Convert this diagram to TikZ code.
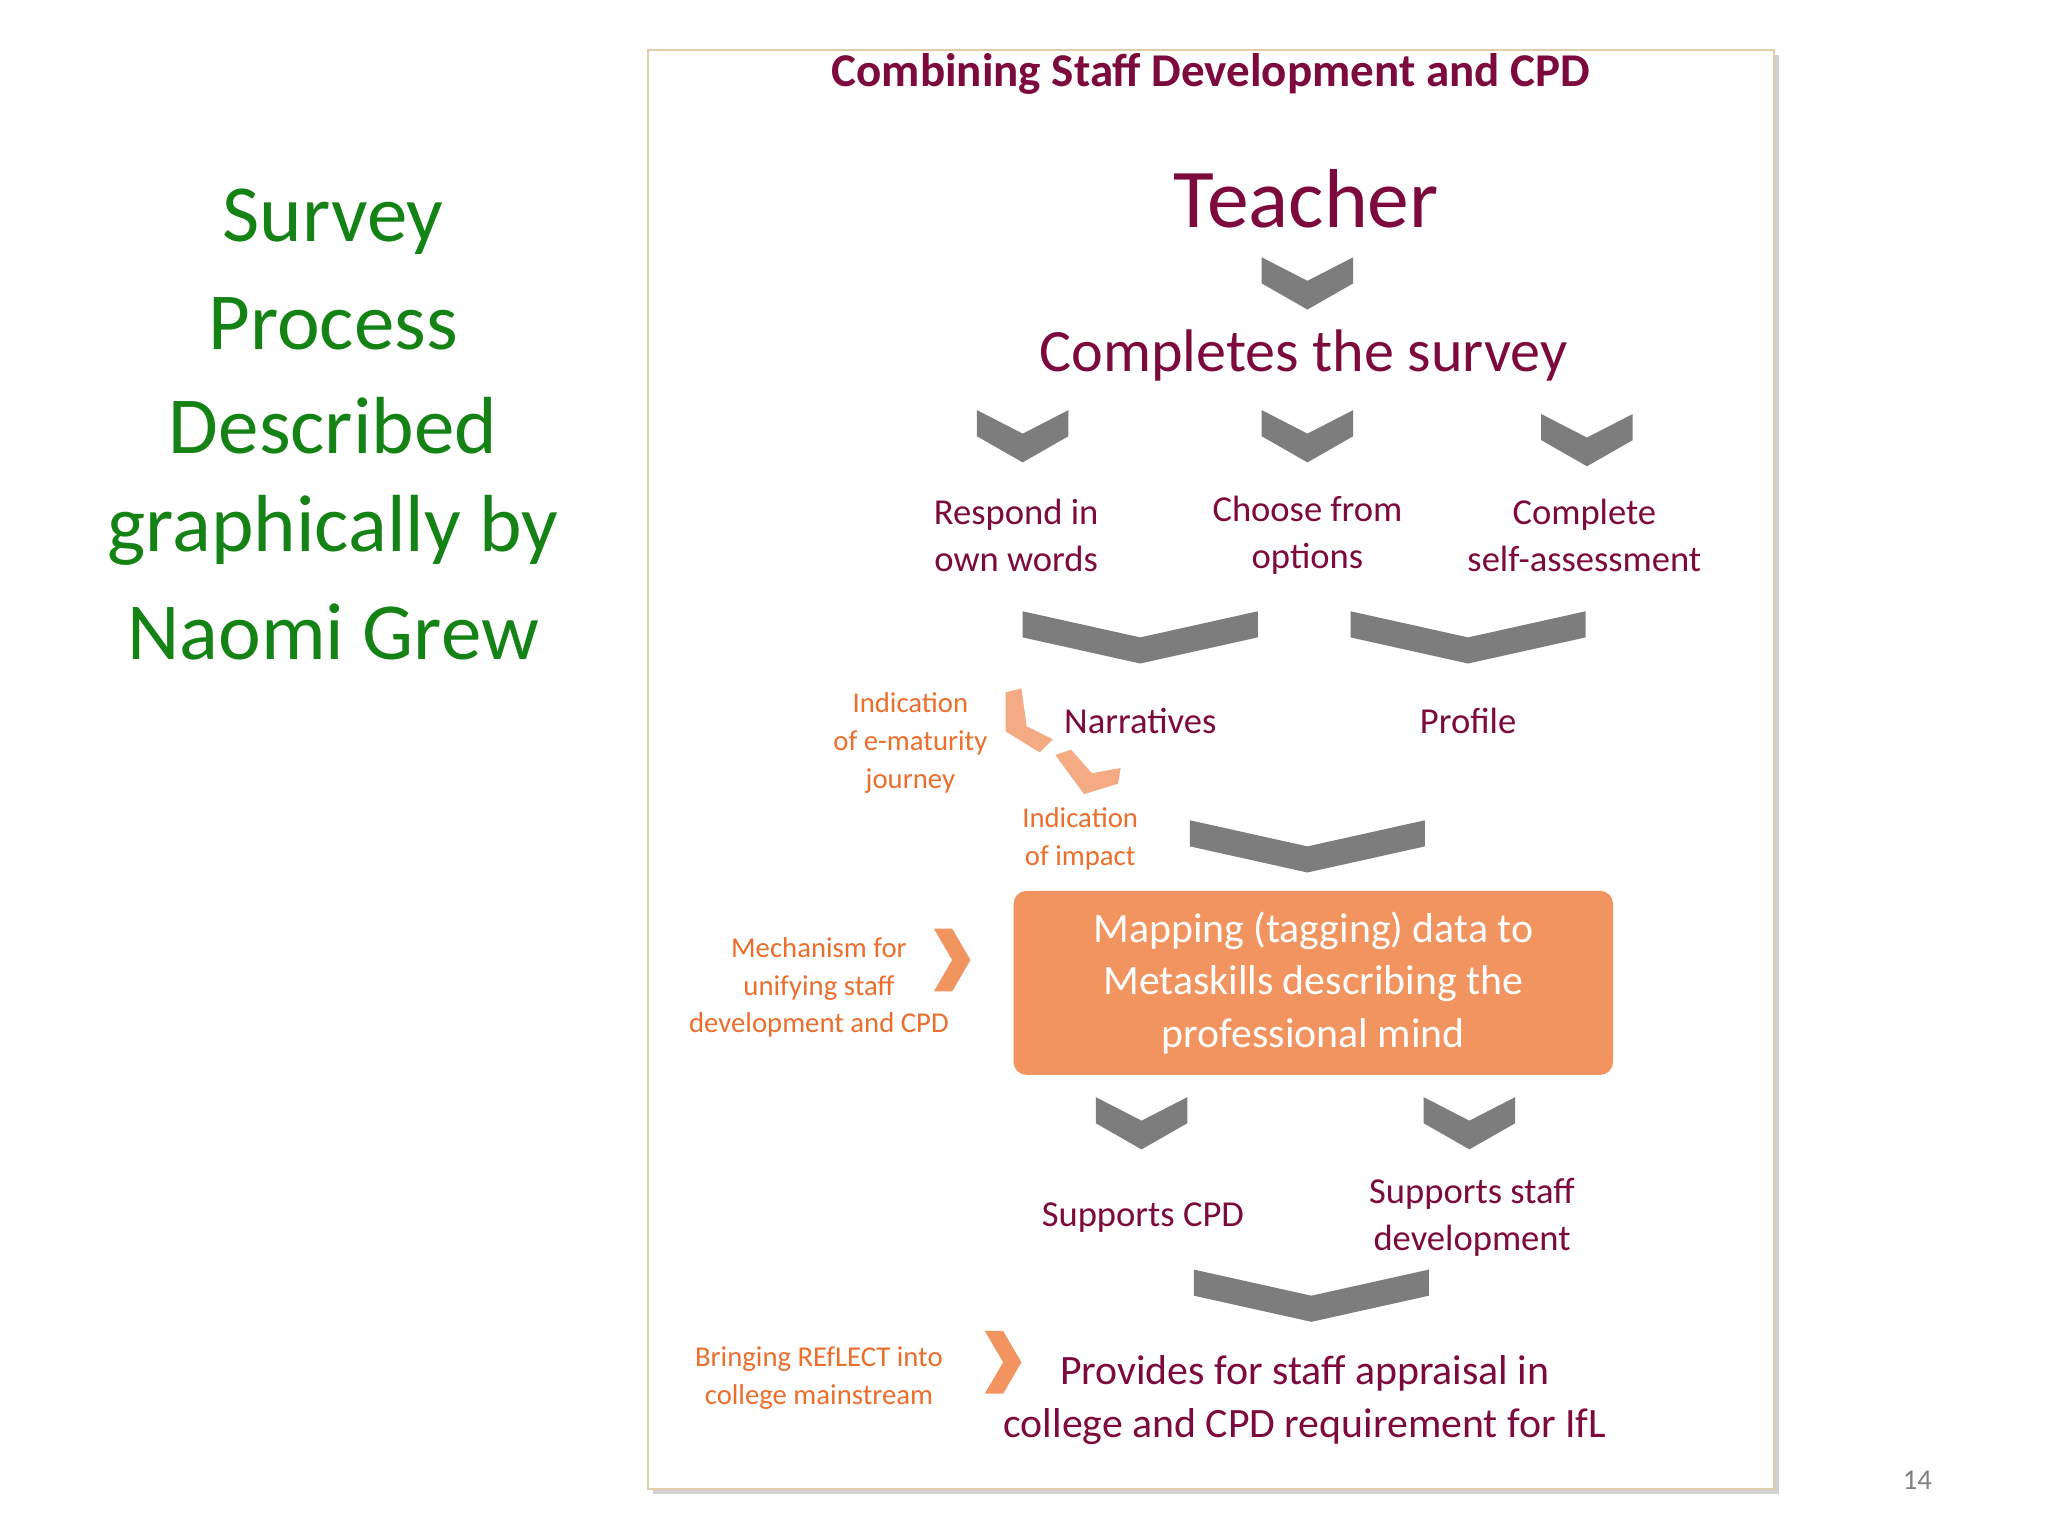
\documentclass[tikz,border=0pt]{standalone}
\usepackage{fontspec}
\setmainfont{Carlito}
\definecolor{maroon}{RGB}{125,10,60}
\definecolor{grn}{RGB}{20,130,20}
\definecolor{org}{RGB}{236,110,45}
\definecolor{orgfill}{RGB}{242,148,95}
\definecolor{chv}{RGB}{125,125,125}
\definecolor{lorg}{RGB}{244,170,130}
\tikzset{
 mt/.style={text=maroon,align=center,inner sep=0pt},
 ot/.style={text=org,align=center,inner sep=0pt,font=\fontsize{22}{29}\selectfont},
 gt/.style={text=grn,align=center,inner sep=0pt,font=\fontsize{62}{78}\selectfont},
}
\newcommand{\smallchev}[2]{\fill[chv] (#1-35,#2-18) -- (#1,#2) -- (#1+35,#2-18) -- (#1+35,#2+2) -- (#1,#2+22) -- (#1-35,#2+2) -- cycle;}
\newcommand{\widechev}[2]{\fill[chv] (#1-90,#2-18) -- (#1,#2+2) -- (#1+90,#2-18) -- (#1+90,#2+2) -- (#1,#2+22) -- (#1-90,#2+2) -- cycle;}
\newcommand{\rchev}[3]{\fill[#3] (#1-12,#2-24) -- (#1+2,#2-24) -- (#1+16,#2) -- (#1+2,#2+24) -- (#1-12,#2+24) -- (#1+2,#2) -- cycle;}
\begin{document}
\begin{tikzpicture}[x=1pt,y=-1pt]
\useasboundingbox[fill=white] (0,0) rectangle (1568,1176);
% left title
\node[gt] (l1) at (255,170) {Survey};
\node[gt] (l2) at (255,248) {Process};
\node[gt] (l3) at (255,326) {Described};
\node[gt] (l4) at (255,406) {graphically by};
\node[gt] (l5) at (255,484) {Naomi Grew};
% frame
\fill[black!18] (500,42) rectangle (1362,1144);
\draw[fill=white,draw={rgb,255:red,225;green,205;blue,170},line width=1.5] (496,38) rectangle (1358,1140);
\node[mt,font=\bfseries\fontsize{36}{40}\selectfont] (title) at (927,57) {Combining Staff Development and CPD};
\node[mt,font=\fontsize{64}{70}\selectfont] (teacher) at (1000,152) {Teacher};
\smallchev{1001}{215}
\node[mt,font=\fontsize{46}{50}\selectfont] (comp) at (998,272) {Completes the survey};
\smallchev{783}{332}
\smallchev{1001}{332}
\smallchev{1215}{335}
\node[mt,font=\fontsize{28}{36}\selectfont] (resp) at (778,410) {Respond in\\own words};
\node[mt,font=\fontsize{28}{36}\selectfont] (choose) at (1001,410) {Choose from\\options};
\node[mt,font=\fontsize{28}{36}\selectfont] (self) at (1213,410) {Complete\\self-assessment};
\widechev{873}{486}
\widechev{1124}{486}
\node[mt,font=\fontsize{28}{34}\selectfont] (narr) at (873,552) {Narratives};
\node[mt,font=\fontsize{28}{34}\selectfont] (prof) at (1124,552) {Profile};
\node[ot] (emat) at (697,569) {Indication\\of e-maturity\\journey};
\fill[lorg] (770,530) -- (782,527) -- (786,556) -- (806,566) -- (796,576) -- (770,560) -- cycle;
\fill[lorg] (808,578) -- (820,574) -- (836,592) -- (858,588) -- (856,600) -- (830,608) -- cycle;
\node[ot] (impact) at (827,642) {Indication\\of impact};
\widechev{1001}{646}
\node[draw=none,fill=orgfill,rounded corners=10,minimum width=459,minimum height=141,text=white,align=center,font=\fontsize{32}{40}\selectfont] (map) at (1005.5,752.5) {Mapping (tagging) data to\\Metaskills describing the\\professional mind};
\node[ot] (mech) at (627,756) {Mechanism for\\unifying staff\\development and CPD};
\rchev{727}{735}{orgfill}
\smallchev{874}{858}
\smallchev{1125}{858}
\node[mt,font=\fontsize{28}{36}\selectfont] (scpd) at (875,932) {Supports CPD};
\node[mt,font=\fontsize{28}{36}\selectfont] (sstaff) at (1127,932) {Supports staff\\development};
\widechev{1004}{990}
\node[ot] (bring) at (627,1055) {Bringing REfLECT into\\college mainstream};
\rchev{766}{1043}{orgfill}
\node[mt,font=\fontsize{32}{40}\selectfont] (prov) at (999,1072) {Provides for staff appraisal in\\college and CPD requirement for IfL};
\node[text=black!50,font=\fontsize{22}{26}\selectfont,inner sep=0pt] (pg) at (1468,1133) {14};
\end{tikzpicture}
\end{document}
